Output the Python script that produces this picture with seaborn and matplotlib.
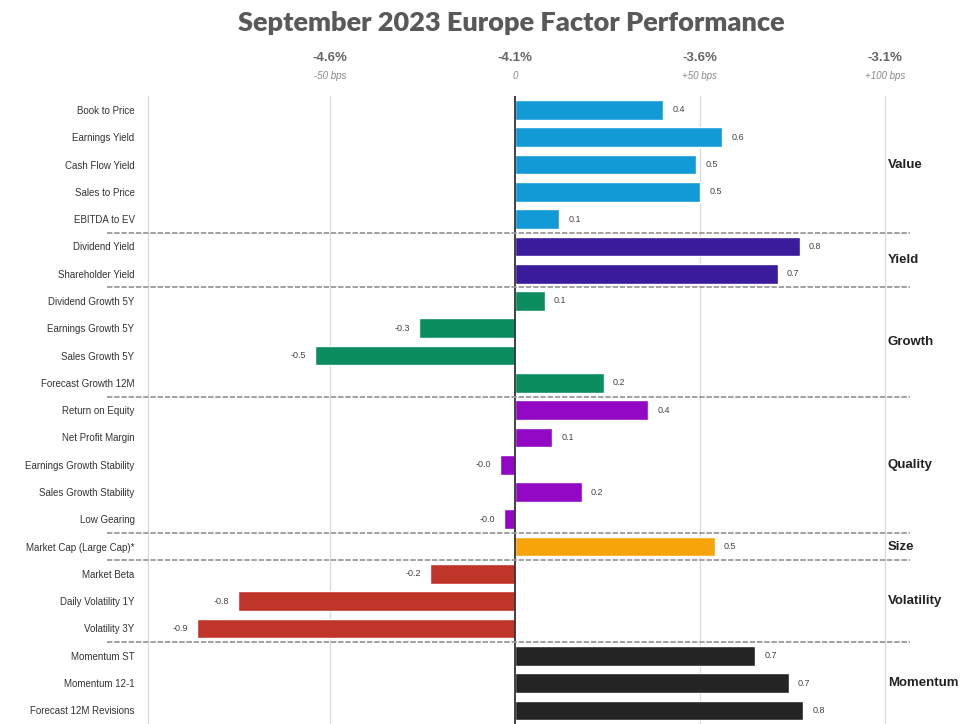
import numpy as np
import pandas as pd
import seaborn as sns
import matplotlib.pyplot as plt

# values in % (relative to the -4.1% market return)
factors = ["Book to Price", "Earnings Yield", "Cash Flow Yield", "Sales to Price", "EBITDA to EV",
           "Dividend Yield", "Shareholder Yield",
           "Dividend Growth 5Y", "Earnings Growth 5Y", "Sales Growth 5Y", "Forecast Growth 12M",
           "Return on Equity", "Net Profit Margin", "Earnings Growth Stability", "Sales Growth Stability", "Low Gearing",
           "Market Cap (Large Cap)*",
           "Market Beta", "Daily Volatility 1Y", "Volatility 3Y",
           "Momentum ST", "Momentum 12-1", "Forecast 12M Revisions"]
values = [0.40, 0.56, 0.49, 0.50, 0.12,
          0.77, 0.71,
          0.08, -0.26, -0.54, 0.24,
          0.36, 0.10, -0.04, 0.18, -0.03,
          0.54,
          -0.23, -0.75, -0.86,
          0.65, 0.74, 0.78]
groups = ["Value"] * 5 + ["Yield"] * 2 + ["Growth"] * 4 + ["Quality"] * 5 + ["Size"] + \
         ["Volatility"] * 3 + ["Momentum"] * 3
group_names = ["Value", "Yield", "Growth", "Quality", "Size", "Volatility", "Momentum"]
group_colors = ["#129ad6", "#3a1b9c", "#0b8d5f", "#9208c4", "#f7a30a", "#c0352a", "#242424"]

tick_pos = [-0.5, 0.0, 0.5, 1.0]
tick_pct = ["-4.6%", "-4.1%", "-3.6%", "-3.1%"]
tick_bps = ["-50 bps", "0", "+50 bps", "+100 bps"]

df = pd.DataFrame({"factor": factors, "value": values, "group": groups})

sns.set_style("white")
plt.rcParams["font.family"] = ["Liberation Sans", "DejaVu Sans"]

fig = plt.figure(figsize=(9.7, 7.24), dpi=100)
ax = fig.add_axes([0.153, 0.0, 0.785, 0.867])

sns.barplot(data=df, x="value", y="factor", hue="group", orient="h",
            palette=dict(zip(group_names, group_colors)), dodge=False,
            width=0.72, legend=False, saturation=1, ax=ax)

ax.set_xlim(-0.992, 1.068)
ax.set_ylim(len(factors) - 0.5, -0.5)
ax.set_xlabel("")
ax.set_ylabel("")

# gridlines and zero line
for t in [-0.5, 0.5, 1.0]:
    ax.axvline(t, color="#d9d9d9", lw=0.9, zorder=0)
ax.axvline(0, color="#333333", lw=1.3, zorder=3)
for s in ["top", "right", "bottom"]:
    ax.spines[s].set_visible(False)
ax.spines["left"].set_color("#d9d9d9")

# top tick labels: percent row and bps row
ax.xaxis.tick_top()
ax.set_xticks(tick_pos)
ax.set_xticklabels(tick_pct, fontsize=9.5, color="#666666", fontweight="bold")
ax.tick_params(axis="x", length=0, pad=23)
sec = ax.secondary_xaxis("top")
sec.set_xticks(tick_pos)
sec.set_xticklabels(tick_bps, fontsize=7, color="#888888", style="italic")
sec.tick_params(axis="x", length=0, pad=11)
sec.spines["top"].set_visible(False)

ax.tick_params(axis="y", length=0, pad=10)
for lab in ax.get_yticklabels():
    lab.set_fontsize(7)
    lab.set_color("#333333")

# value labels
for i, v in enumerate(values):
    off = 0.025
    ax.text(v + off if v >= 0 else v - off, i, f"{v:.1f}", va="center",
            ha="left" if v >= 0 else "right", fontsize=6.5, color="#444444")

# group separators and group names
start = 0
for g in group_names:
    n = groups.count(g)
    end = start + n
    if end < len(factors):
        ax.plot([-1.103, 1.068], [end - 0.5, end - 0.5], color="#9a9a9a", lw=1.3,
                ls=(0, (3, 1)), clip_on=False, zorder=4)
    ax.text(1.008, (start + end - 1) / 2, g, va="center", ha="left",
            fontsize=9.5, fontweight="bold", color="#222222", clip_on=False)
    start = end

fig.text(0.527, 0.968, "September 2023 Europe Factor Performance", ha="center", va="center",
         fontsize=19.5, fontweight="heavy", color="#595959", family=["Lato", "DejaVu Sans"])

fig.savefig("out.png", dpi=100)
